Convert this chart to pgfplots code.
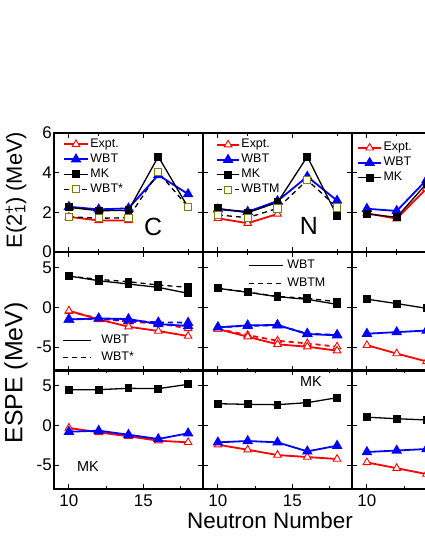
\documentclass[border=0pt]{standalone}
\usepackage{fontspec}
\setmainfont{Liberation Sans}
\usepackage{pgfplots}
\pgfplotsset{compat=1.18}
\definecolor{olv}{RGB}{128,128,0}
\pgfplotsset{
  panel/.style={scale only axis, width=149bp, height=119bp, xmin=9, xmax=19,
    anchor=south west, xtick={10,15}, minor xtick={12,18},
    tick align=inside, xtick pos=both, ytick pos=both,
    major tick length=5bp, minor tick length=3bp,
    every tick/.style={black, line width=1.1bp},
    axis line style={line width=1.3bp},
    tick label style={font=\fontsize{17}{17}\selectfont},
    yticklabel style={inner xsep=2bp},
    xticklabel style={yshift=-2bp},
    /pgf/number format/assume math mode=true,
    legend cell align=left},
  rowA/.style={ymin=0, ymax=6, ytick={0,2,4,6}},
  rowB/.style={ymin=-8, ymax=7, ytick={-5,0,5}},
  expt/.style={red, line width=1.8bp, mark=triangle*, mark size=4.4bp, mark options={fill=white, solid, line width=0.9bp}},
  wbt/.style={blue, line width=1.8bp, mark=triangle*, mark size=4.4bp, mark options={fill=blue, solid}},
  mk/.style={black, line width=1.3bp, mark=square*, mark size=3.3bp, mark options={fill=black, solid}},
  wbts/.style={black, line width=1.3bp, dash pattern=on 5bp off 4bp, mark=square*, mark size=3.6bp, mark options={solid, draw=olv, fill=white, line width=0.9bp}},
  legA/.style={legend style={draw=none, fill=none, inner sep=0pt, row sep=0pt, column sep=0pt,
      font=\fontsize{12.5}{12.5}\selectfont, nodes={text height=9bp, text depth=3bp, inner sep=1.5bp}}},
}
\begin{document}
\begin{tikzpicture}
\path[use as bounding box] (0,0) rectangle (425bp,550bp);
\clip (0,0) rectangle (425bp,550bp);

% ---------------- Row 1 : E(2+) ----------------
\begin{axis}[panel, rowA, at={(54bp,298bp)}, xticklabels={}, legA,
  legend style={at={(0.06,0.97)}, anchor=north west},
  legend image code/.code={\draw[mark repeat=2,mark phase=2,#1] plot coordinates {(0bp,0bp) (12bp,0bp) (24bp,0bp)};}]
\addplot[expt] coordinates {(10,1.77)(12,1.59)(14,1.59)};
\addlegendentry{Expt.}
\addplot[wbt] coordinates {(10,2.28)(12,2.15)(14,2.2)(16,3.88)(18,2.92)};
\addlegendentry{WBT}
\addplot[mk] coordinates {(10,2.25)(12,2.08)(14,2.1)(16,4.81)(18,2.25)};
\addlegendentry{MK}
\addplot[wbts] coordinates {(10,1.78)(12,1.7)(14,1.73)(16,4.02)(18,2.27)};
\addlegendentry{WBT*}
\node[font=\fontsize{25}{25}\selectfont] at (axis cs:15.65,1.26) {C};
\end{axis}

\begin{axis}[panel, rowA, at={(203bp,298bp)}, xticklabels={}, yticklabels={}, legA,
  legend style={at={(0.087,0.966)}, anchor=north west},
  legend image code/.code={\draw[mark repeat=2,mark phase=2,#1] plot coordinates {(0bp,0bp) (11bp,0bp) (22bp,0bp)};}]
\addplot[expt] coordinates {(10,1.70)(12,1.45)(14,1.92)};
\addlegendentry{Expt.}
\addplot[wbt] coordinates {(10,2.15)(12,2.03)(14,2.57)(16,3.8)(18,2.59)};
\addlegendentry{WBT}
\addplot[mk] coordinates {(10,2.2)(12,1.98)(14,2.5)(16,4.81)(18,1.82)};
\addlegendentry{MK}
\addplot[wbts] coordinates {(10,1.87)(12,1.73)(14,2.2)(16,3.63)(18,2.25)};
\addlegendentry{WBTM}
\node[font=\fontsize{25}{25}\selectfont] at (axis cs:16.1,1.31) {N};
\end{axis}

\begin{axis}[panel, rowA, at={(352bp,298bp)}, xticklabels={}, yticklabels={}, legA,
  legend style={at={(0.034,0.94)}, anchor=north west},
  legend image code/.code={\draw[mark repeat=2,mark phase=2,#1] plot coordinates {(0bp,0bp) (11.5bp,0bp) (23bp,0bp)};}]
\addplot[expt] coordinates {(10,1.95)(12,1.68)(14,3.2)};
\addlegendentry{Expt.}
\addplot[wbt] coordinates {(10,2.18)(12,2.07)(14,3.63)};
\addlegendentry{WBT}
\addplot[mk] coordinates {(10,1.92)(12,1.75)(14,3.45)};
\addlegendentry{MK}
\end{axis}

% ---------------- Row 2 : ESPE WBT / WBT* ----------------
\begin{axis}[panel, rowB, at={(54bp,179bp)}, xticklabels={},
  legend style={draw=none, fill=none, inner sep=0pt, row sep=0pt, column sep=8bp,
      font=\fontsize{12.5}{12.5}\selectfont, nodes={text height=10bp, text depth=3bp, inner sep=2bp},
      at={(0.054,0.332)}, anchor=north west},
  legend image code/.code={\draw[#1] (0bp,0bp) -- (28bp,0bp);}]
\addlegendimage{black, line width=1.1bp}
\addlegendentry{WBT}
\addlegendimage{black, line width=1.1bp, dash pattern=on 5bp off 4bp}
\addlegendentry{WBT*}
\addplot[mk, forget plot, dash pattern=on 5bp off 4bp] coordinates {(10,3.97)(12,3.55)(14,3.25)(16,2.84)(18,2.54)};
\addplot[mk, forget plot] coordinates {(10,3.97)(12,3.38)(14,2.96)(16,2.54)(18,1.79)};
\addplot[expt, forget plot, dash pattern=on 5bp off 4bp] coordinates {(10,-0.5)(12,-1.37)(14,-1.8)(16,-2.0)(18,-2.63)};
\addplot[wbt, forget plot, dash pattern=on 5bp off 4bp] coordinates {(10,-1.5)(12,-1.4)(14,-1.66)(16,-1.87)(18,-1.91)};
\addplot[expt, forget plot] coordinates {(10,-0.4)(12,-1.5)(14,-2.42)(16,-2.96)(18,-3.6)};
\addplot[wbt, forget plot] coordinates {(10,-1.5)(12,-1.37)(14,-1.45)(16,-2.08)(18,-2.33)};
\end{axis}

\begin{axis}[panel, rowB, at={(203bp,179bp)}, xticklabels={}, yticklabels={},
  legend style={draw=none, fill=none, inner sep=0pt, row sep=0pt, column sep=2bp,
      font=\fontsize{12.5}{12.5}\selectfont, nodes={text height=10bp, text depth=4bp, inner sep=2bp},
      at={(0.302,0.966)}, anchor=north west},
  legend image code/.code={\draw[#1] (0bp,0bp) -- (34bp,0bp);}]
\addlegendimage{black, line width=1.1bp}
\addlegendentry{WBT}
\addlegendimage{black, line width=1.1bp, dash pattern=on 5bp off 4bp}
\addlegendentry{WBTM}
\addplot[mk, forget plot, dash pattern=on 5bp off 4bp] coordinates {(10,2.42)(12,1.95)(14,1.4)(16,1.16)(18,0.73)};
\addplot[mk, forget plot] coordinates {(10,2.42)(12,1.92)(14,1.36)(16,1.03)(18,0.4)};
\addplot[expt, forget plot, dash pattern=on 5bp off 4bp] coordinates {(10,-2.7)(12,-3.47)(14,-4.19)(16,-4.52)(18,-4.94)};
\addplot[wbt, forget plot, dash pattern=on 5bp off 4bp] coordinates {(10,-2.5)(12,-2.3)(14,-2.25)(16,-3.3)(18,-3.45)};
\addplot[expt, forget plot] coordinates {(10,-2.71)(12,-3.68)(14,-4.64)(16,-4.94)(18,-5.44)};
\addplot[wbt, forget plot] coordinates {(10,-2.5)(12,-2.25)(14,-2.2)(16,-3.34)(18,-3.5)};
\end{axis}

\begin{axis}[panel, rowB, at={(352bp,179bp)}, xticklabels={}, yticklabels={}]
\addplot[mk] coordinates {(10,1.05)(12,0.5)(14,-0.1)};
\addplot[expt] coordinates {(10,-4.75)(12,-5.8)(14,-6.8)};
\addplot[wbt] coordinates {(10,-3.3)(12,-3.1)(14,-2.9)};
\end{axis}

% ---------------- Row 3 : ESPE MK ----------------
\begin{axis}[panel, rowB, at={(54bp,61bp)}, minor xtick={12.5,17.5}]
\addplot[mk] coordinates {(10,4.52)(12,4.52)(14,4.69)(16,4.65)(18,5.19)};
\addplot[expt] coordinates {(10,-0.3)(12,-0.86)(14,-1.36)(16,-1.91)(18,-2.12)};
\addplot[wbt] coordinates {(10,-0.78)(12,-0.65)(14,-1.16)(16,-1.7)(18,-0.98)};
\node[font=\fontsize{14.5}{14.5}\selectfont] at (axis cs:11.28,-5.23) {MK};
\end{axis}

\begin{axis}[panel, rowB, at={(203bp,61bp)}, yticklabels={}, minor xtick={12.5,17.5}]
\addplot[mk] coordinates {(10,2.75)(12,2.67)(14,2.63)(16,2.88)(18,3.51)};
\addplot[expt] coordinates {(10,-2.42)(12,-3.05)(14,-3.72)(16,-3.97)(18,-4.22)};
\addplot[wbt] coordinates {(10,-2.12)(12,-1.95)(14,-2.12)(16,-3.26)(18,-2.54)};
\node[font=\fontsize{14.5}{14.5}\selectfont] at (axis cs:16.25,5.6) {MK};
\end{axis}

\begin{axis}[panel, rowB, at={(352bp,61bp)}, yticklabels={}, xticklabels={10,{}}, minor xtick={12.5,17.5}]
\addplot[mk] coordinates {(10,1.05)(12,0.86)(14,0.7)};
\addplot[expt] coordinates {(10,-4.65)(12,-5.38)(14,-6.12)};
\addplot[wbt] coordinates {(10,-3.34)(12,-3.15)(14,-2.96)};
\end{axis}

% ---------------- axis titles ----------------
\node[rotate=90, font=\fontsize{22}{22}\selectfont] at (16bp,360bp) {E(2\textsuperscript{+}\llap{\textsubscript{1}}) (MeV)};
\node[rotate=90, font=\fontsize{25}{25}\selectfont] at (16bp,177bp) {ESPE (MeV)};
\node[font=\fontsize{22.5}{22.5}\selectfont] at (270bp,30bp) {Neutron Number};
\end{tikzpicture}
\end{document}
